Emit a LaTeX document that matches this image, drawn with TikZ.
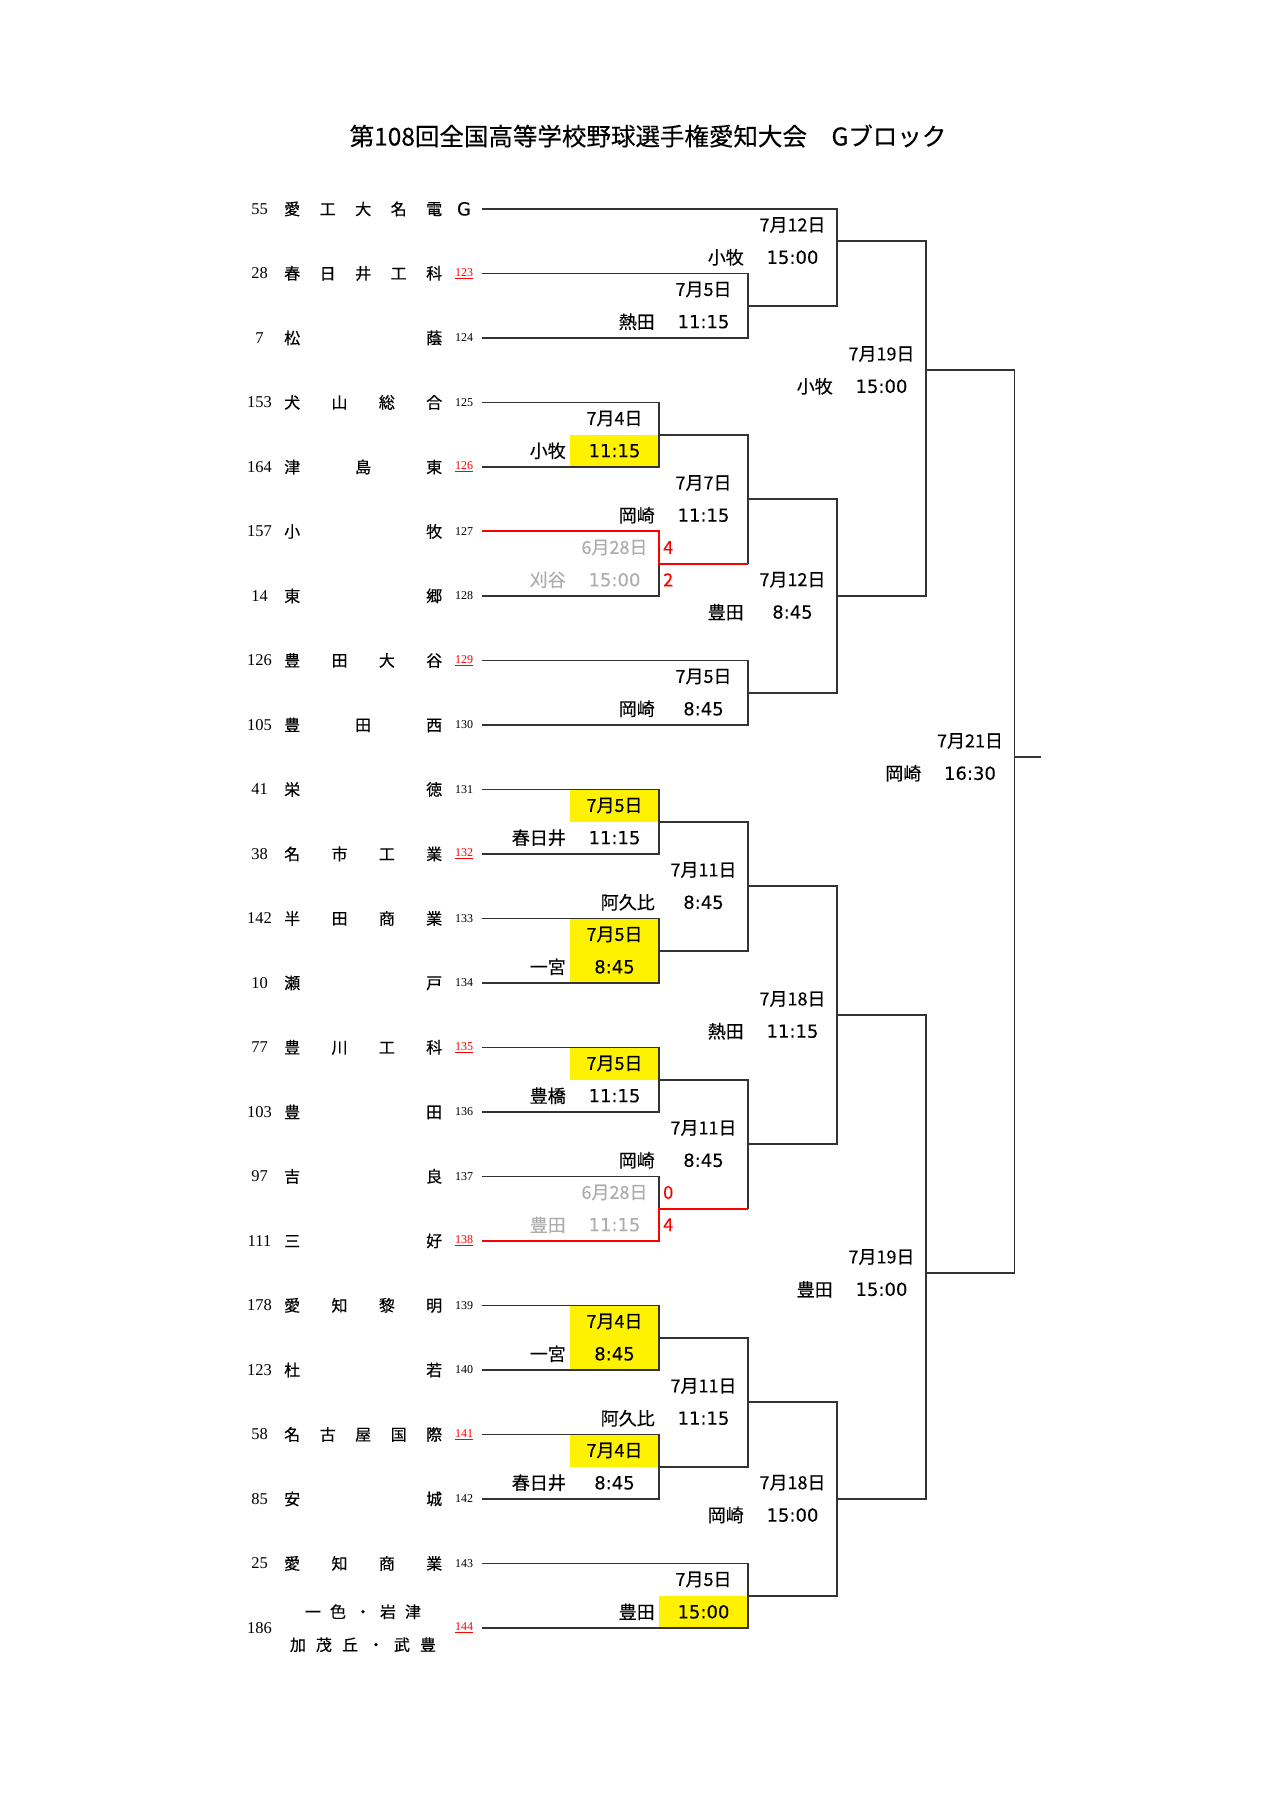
\documentclass[tikz,border=0pt]{standalone}
\usepackage{fontspec}
\setmainfont{Noto Sans CJK JP}
\newfontfamily\jp[FakeBold=0.35]{Noto Sans CJK JP}
\newfontfamily\tm[FakeBold=0.2]{DejaVu Sans}
\newfontfamily\snum{Liberation Serif}
\def\Y#1{(208.9+32.25*(#1))}
\def\XS{482}\def\XA{659}\def\XB{748}\def\XC{837}\def\XD{926}\def\XE{1014.5}\def\XF{1041}
\newcommand\rs[1]{\textcolor{red}{\underline{#1}}}
\newcommand\teamrow[4]{%
  \coordinate (t#1) at (\XS,{\Y{2*#1}});
  \node[tnum] (n#1) at (259.5,{\Y{2*#1}}) {#2};
  \node[tname] (nm#1) at (284,{\Y{2*#1}}) {\makebox[158pt]{#3}};
  \node[snm] (s#1) at (464,{\Y{2*#1}}) {#4};
}
\newcommand\mlab[7][]{%
  \node[lab,#1] (#2d) at ({#3-44.5},{\Y{#4+0.5}}) {#5};
  \node[lab,font=\tm\fontsize{18}{20}\selectfont,#1] (#2t) at ({#3-44.5},{\Y{#4+1.5}}) {#7};
  \node[lab,anchor=east,#1] (#2p) at ({#3-93},{\Y{#4+1.5}}) {#6};
}
\begin{document}
\begin{tikzpicture}[x=1pt,y=-1pt,
  ln/.style={draw=black!80,line width=1.7pt},
  rl/.style={draw=red,line width=1.9pt},
  lab/.style={font=\jp\fontsize{18}{20}\selectfont,inner sep=0pt},
  gry/.style={text=black!32},
  score/.style={lab,text=red,anchor=west},
  tnum/.style={font=\snum\fontsize{16.5}{18}\selectfont,inner sep=0pt},
  snm/.style={font=\snum\fontsize{12}{14}\selectfont,inner sep=0pt},
  tname/.style={font=\jp\fontsize{16}{18}\selectfont,inner sep=0pt,anchor=west},
  hl/.style={fill=yellow},
]
\useasboundingbox[fill=white] (0,0) rectangle (1280,1810);

\node[font=\jp\fontsize{24.5}{27}\selectfont,inner sep=0pt] (title) at (648,136)
  {第108回全国高等学校野球選手権愛知大会　Gブロック};

% team rows
\teamrow{0}{55}{愛\hfill 工\hfill 大\hfill 名\hfill 電}{\tm\fontsize{18}{20}\selectfont G}
\teamrow{1}{28}{春\hfill 日\hfill 井\hfill 工\hfill 科}{\rs{123}}
\teamrow{2}{7}{松\hfill 蔭}{124}
\teamrow{3}{153}{犬\hfill 山\hfill 総\hfill 合}{125}
\teamrow{4}{164}{津\hfill 島\hfill 東}{\rs{126}}
\teamrow{5}{157}{小\hfill 牧}{127}
\teamrow{6}{14}{東\hfill 郷}{128}
\teamrow{7}{126}{豊\hfill 田\hfill 大\hfill 谷}{\rs{129}}
\teamrow{8}{105}{豊\hfill 田\hfill 西}{130}
\teamrow{9}{41}{栄\hfill 徳}{131}
\teamrow{10}{38}{名\hfill 市\hfill 工\hfill 業}{\rs{132}}
\teamrow{11}{142}{半\hfill 田\hfill 商\hfill 業}{133}
\teamrow{12}{10}{瀬\hfill 戸}{134}
\teamrow{13}{77}{豊\hfill 川\hfill 工\hfill 科}{\rs{135}}
\teamrow{14}{103}{豊\hfill 田}{136}
\teamrow{15}{97}{吉\hfill 良}{137}
\teamrow{16}{111}{三\hfill 好}{\rs{138}}
\teamrow{17}{178}{愛\hfill 知\hfill 黎\hfill 明}{139}
\teamrow{18}{123}{杜\hfill 若}{140}
\teamrow{19}{58}{名\hfill 古\hfill 屋\hfill 国\hfill 際}{\rs{141}}
\teamrow{20}{85}{安\hfill 城}{142}
\teamrow{21}{25}{愛\hfill 知\hfill 商\hfill 業}{143}
\coordinate (t22) at (\XS,{\Y{44}});
\node[tnum] (n22) at (259.5,{\Y{44}}) {186};
\node[tname,anchor=center] (nm22a) at (363,{\Y{44}-16.2}) {\makebox[116pt]{一\hfill 色\hfill ・\hfill 岩\hfill 津}};
\node[tname,anchor=center] (nm22b) at (363,{\Y{44}+16.8}) {\makebox[146pt]{加\hfill 茂\hfill 丘\hfill ・\hfill 武\hfill 豊}};
\node[snm] (s22) at (464,{\Y{44}}) {\rs{144}};

% yellow highlights
\fill[hl] ({\XA-89},{\Y{7}}) rectangle (\XA,{\Y{8}});
\fill[hl] ({\XA-89},{\Y{18}}) rectangle (\XA,{\Y{19}});
\fill[hl] ({\XA-89},{\Y{22}}) rectangle (\XA,{\Y{24}});
\fill[hl] ({\XA-89},{\Y{26}}) rectangle (\XA,{\Y{27}});
\fill[hl] ({\XA-89},{\Y{34}}) rectangle (\XA,{\Y{36}});
\fill[hl] ({\XA-89},{\Y{38}}) rectangle (\XA,{\Y{39}});
\fill[hl] ({\XB-89},{\Y{43}}) rectangle (\XB,{\Y{44}});

% match points
\coordinate (mB) at (\XB,{\Y{3}});
\coordinate (m3a) at (\XC,{\Y{1}});
\coordinate (mC) at (\XA,{\Y{7}});
\coordinate (mD) at (\XA,{\Y{11}});
\coordinate (m2a) at (\XB,{\Y{9}});
\coordinate (mE) at (\XB,{\Y{15}});
\coordinate (m3b) at (\XC,{\Y{12}});
\coordinate (r4a) at (\XD,{\Y{5}});
\coordinate (mF) at (\XA,{\Y{19}});
\coordinate (mG) at (\XA,{\Y{23}});
\coordinate (m2b) at (\XB,{\Y{21}});
\coordinate (mH) at (\XA,{\Y{27}});
\coordinate (mI) at (\XA,{\Y{31}});
\coordinate (m2c) at (\XB,{\Y{29}});
\coordinate (m3c) at (\XC,{\Y{25}});
\coordinate (mJ) at (\XA,{\Y{35}});
\coordinate (mK) at (\XA,{\Y{39}});
\coordinate (m2d) at (\XB,{\Y{37}});
\coordinate (mL) at (\XB,{\Y{43}});
\coordinate (m3d) at (\XC,{\Y{40}});
\coordinate (r4b) at (\XD,{\Y{33}});
\coordinate (fin) at (\XE,{\Y{17}});
\coordinate (finend) at (\XF,{\Y{17}});
\coordinate (d2a) at (\XB,{\Y{11}});
\coordinate (d2c) at (\XB,{\Y{31}});

% bracket lines
\draw[ln] (t1) -| (mB) |- (t2);
\draw[ln] (t0) -| (m3a) |- (mB);
\draw[ln] (t3) -| (mC) |- (t4);
\draw[ln] (t6) -| (mD);
\draw[ln] (mC) -| (m2a) -- (d2a);
\draw[ln] (t7) -| (mE) |- (t8);
\draw[ln] (m2a) -| (m3b) |- (mE);
\draw[ln] (m3a) -| (r4a) |- (m3b);
\draw[ln] (t9) -| (mF) |- (t10);
\draw[ln] (t11) -| (mG) |- (t12);
\draw[ln] (mF) -| (m2b) |- (mG);
\draw[ln] (t13) -| (mH) |- (t14);
\draw[ln] (t15) -| (mI);
\draw[ln] (mH) -| (m2c) -- (d2c);
\draw[ln] (m2b) -| (m3c) |- (m2c);
\draw[ln] (t17) -| (mJ) |- (t18);
\draw[ln] (t19) -| (mK) |- (t20);
\draw[ln] (mJ) -| (m2d) |- (mK);
\draw[ln] (t21) -| (mL) |- (t22);
\draw[ln] (m2d) -| (m3d) |- (mL);
\draw[ln] (m3c) -| (r4b) |- (m3d);
\draw[ln] (r4a) -| (fin) |- (r4b);
\draw[ln] (fin) -- (finend);
% winners of 6/28 games in red
\draw[rl] (t5) -| (mD) -- (d2a);
\draw[rl] (t16) -| (mI) -- (d2c);

% match labels
\mlab{L3a}{\XC}{0}{7月12日}{小牧}{15:00}
\mlab{LB}{\XB}{2}{7月5日}{熱田}{11:15}
\mlab{L4a}{\XD}{4}{7月19日}{小牧}{15:00}
\mlab{LC}{\XA}{6}{7月4日}{小牧}{11:15}
\mlab{L2a}{\XB}{8}{7月7日}{岡崎}{11:15}
\mlab[gry]{LD}{\XA}{10}{6月28日}{刈谷}{15:00}
\mlab{L3b}{\XC}{11}{7月12日}{豊田}{8:45}
\mlab{LE}{\XB}{14}{7月5日}{岡崎}{8:45}
\mlab{Lf}{\XE}{16}{7月21日}{岡崎}{16:30}
\mlab{LF}{\XA}{18}{7月5日}{春日井}{11:15}
\mlab{L2b}{\XB}{20}{7月11日}{阿久比}{8:45}
\mlab{LG}{\XA}{22}{7月5日}{一宮}{8:45}
\mlab{L3c}{\XC}{24}{7月18日}{熱田}{11:15}
\mlab{LH}{\XA}{26}{7月5日}{豊橋}{11:15}
\mlab{L2c}{\XB}{28}{7月11日}{岡崎}{8:45}
\mlab[gry]{LI}{\XA}{30}{6月28日}{豊田}{11:15}
\mlab{L4b}{\XD}{32}{7月19日}{豊田}{15:00}
\mlab{LJ}{\XA}{34}{7月4日}{一宮}{8:45}
\mlab{L2d}{\XB}{36}{7月11日}{阿久比}{11:15}
\mlab{LK}{\XA}{38}{7月4日}{春日井}{8:45}
\mlab{L3d}{\XC}{39}{7月18日}{岡崎}{15:00}
\mlab{LL}{\XB}{42}{7月5日}{豊田}{15:00}

% scores
\node[score] (sc1) at ({\XA+4},{\Y{10.5}}) {4};
\node[score] (sc2) at ({\XA+4},{\Y{11.5}}) {2};
\node[score] (sc3) at ({\XA+4},{\Y{30.5}}) {0};
\node[score] (sc4) at ({\XA+4},{\Y{31.5}}) {4};
\end{tikzpicture}
\end{document}
